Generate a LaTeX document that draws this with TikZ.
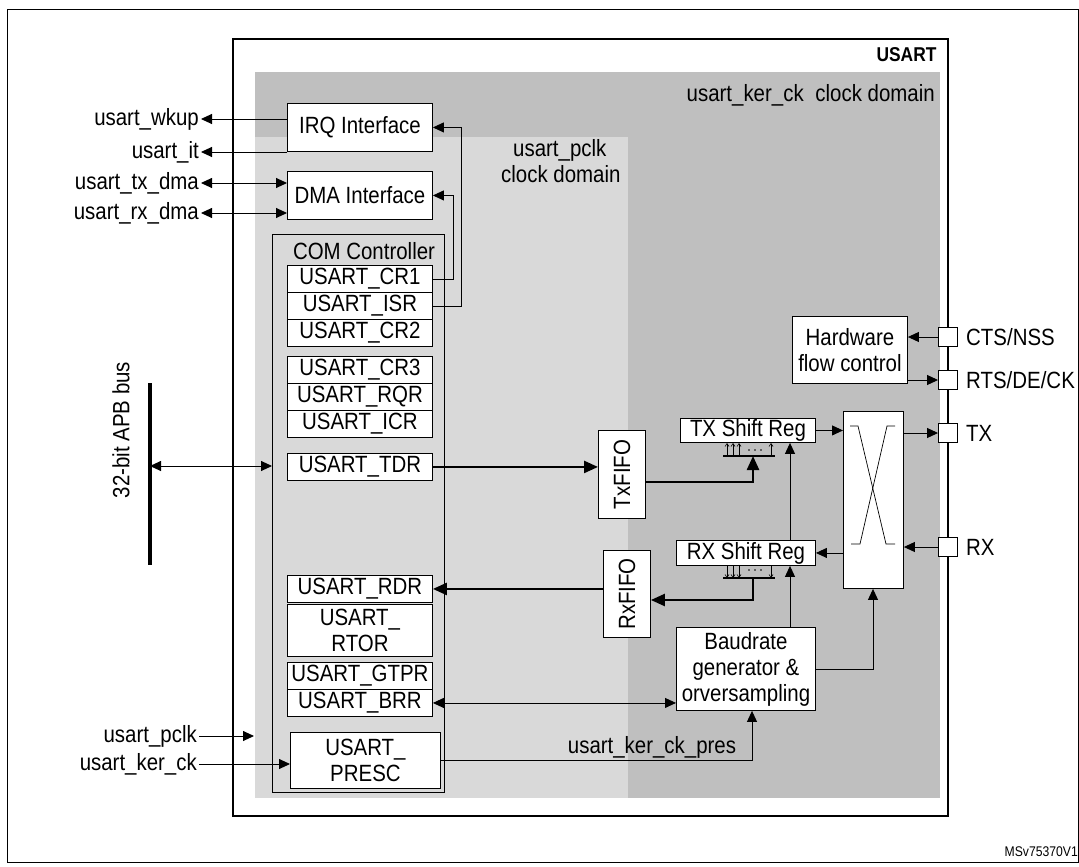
\documentclass[tikz,border=0pt]{standalone}
\usepackage{fontspec}
\setmainfont{Liberation Sans}[FakeStretch=0.87]
\usetikzlibrary{arrows.meta}
\definecolor{dk}{HTML}{BFBFBF}
\definecolor{lt}{HTML}{D9D9D9}
\begin{document}
\begin{tikzpicture}[x=1pt,y=-1pt,
  box/.style={draw,fill=white,line width=0.9pt,inner sep=0pt,font=\fontsize{23.5}{26}\selectfont},
  reg/.style={box,minimum width=145pt,anchor=north west},
  lbl/.style={font=\fontsize{23.5}{26}\selectfont,inner sep=2pt},
  a/.style={-{Triangle[length=11pt,width=10pt]},line width=0.9pt},
  aa/.style={{Triangle[length=11pt,width=10pt]}-{Triangle[length=11pt,width=10pt]},line width=0.9pt},
  ta/.style={-{Triangle[length=14pt,width=12pt]},line width=2.4pt},
  port/.style={draw,fill=white,line width=0.9pt,minimum size=19pt,inner sep=0pt}]
\useasboundingbox (0,0) rectangle (1079,867);
\draw[line width=1pt] (7,10) rectangle (1078,862);
\draw[line width=1.3pt] (233,39) rectangle (948,816);
\fill[dk] (255,72) rectangle (940,798);
\fill[lt] (255,137) rectangle (628,798);
\node[font=\bfseries\fontsize{20}{22}\selectfont,anchor=north east] (usart) at (940,44) {USART};
\node[lbl,anchor=north east] (kdom) at (937,82) {usart\_ker\_ck\enspace clock domain};
\node[lbl,align=left,anchor=north west] (pdom) at (499,137) {\hspace{12pt}usart\_pclk\\clock domain};
% interfaces
\node[box,minimum width=145pt,minimum height=48pt,anchor=north west] (irq) at (287,103) {IRQ Interface};
\node[box,minimum width=145pt,minimum height=48pt,anchor=north west] (dma) at (287,171) {DMA Interface};
\draw[line width=0.9pt] (272,234) rectangle (444,792);
\node[lbl] (com) at (364,251) {COM Controller};
\node[reg,minimum height=27pt] (cr1) at (287,265) {USART\_CR1};
\node[reg,minimum height=27pt] (isr) at (287,292) {USART\_ISR};
\node[reg,minimum height=27pt] (cr2) at (287,319) {USART\_CR2};
\node[reg,minimum height=27pt] (cr3) at (287,356) {USART\_CR3};
\node[reg,minimum height=27pt] (rqr) at (287,383) {USART\_RQR};
\node[reg,minimum height=27pt] (icr) at (287,410) {USART\_ICR};
\node[reg,minimum height=27pt] (tdr) at (287,453) {USART\_TDR};
\node[reg,minimum height=27pt] (rdr) at (287,575) {USART\_RDR};
\node[reg,minimum height=52pt,align=center] (rtor) at (287,604) {USART\_\\RTOR};
\node[reg,minimum height=27pt] (gtpr) at (287,662) {USART\_GTPR};
\node[reg,minimum height=27pt] (brr) at (287,689) {USART\_BRR};
\node[reg,minimum width=150pt,minimum height=56pt,align=center] (presc) at (290,732) {USART\_\\PRESC};
\draw[a] (cr1.east) -- ++(21,0) |- (dma.east);
\draw[a] (isr.east) -- ++(29,0) |- (irq.east);
% left signals
\node[lbl,anchor=east] (wk) at (201,119) {usart\_wkup};
\node[lbl,anchor=east] (it) at (201,152) {usart\_it};
\node[lbl,anchor=east] (tx) at (201,183) {usart\_tx\_dma};
\node[lbl,anchor=east] (rx) at (201,213) {usart\_rx\_dma};
\draw[a] (irq.west|-wk) -- (wk);
\draw[a] (irq.west|-it) -- (it);
\draw[aa] (tx) -- (dma.west|-tx);
\draw[aa] (rx) -- (dma.west|-rx);
\node[lbl,anchor=east] (pclk) at (199,736) {usart\_pclk};
\node[lbl,anchor=east] (kck) at (199,764) {usart\_ker\_ck};
\coordinate (pclke) at (254,736);
\draw[a] (pclk) -- (pclke);
\draw[a] (kck) -- (presc.west|-kck);
% APB bus
\coordinate (bt) at (150,383); \coordinate (bb) at (150,565);
\draw[line width=4.5pt] (bt) -- (bb);
\node[lbl,rotate=90] (apb) at (121,430) {32-bit APB bus};
\coordinate (bm) at (150,466);
\draw[aa] (bm) -- (272,466);
% FIFOs
\node[box,minimum width=47pt,minimum height=88pt,anchor=north west] (txf) at (598,430) {};
\node[lbl,rotate=90] at (txf.center) {TxFIFO};
\node[box,minimum width=47pt,minimum height=87pt,anchor=north west] (rxf) at (603,550) {};
\node[lbl,rotate=90] at (rxf.center) {RxFIFO};
\draw[ta] (tdr.east) -- (txf.west|-tdr.east);
\draw[ta] (rxf.west|-rdr.east) -- (rdr.east);
% shift regs
\node[box,minimum width=135pt,minimum height=24pt,anchor=north west] (txs) at (680,418) {TX Shift Reg};
\node[box,minimum width=139pt,minimum height=25pt,anchor=north west] (rxs) at (676,540) {RX Shift Reg};
\draw[line width=1.5pt] (723,456) -- (775,456);
\foreach \x in {727,733,739,771} \draw[-{Straight Barb[length=3pt,width=4pt]},line width=0.6pt] (\x,456) -- (\x,443);
\foreach \x in {749,755,761} \fill (\x,450) circle (0.8pt);
\coordinate (txbar) at (753,456);
\draw[ta] (txf.east|-0,482) -| (txbar);
\draw[line width=1.5pt] (723,578) -- (775,578);
\foreach \x in {727,733,739,771} \draw[-{Straight Barb[length=3pt,width=4pt]},line width=0.6pt] (\x,566) -- (\x,578);
\foreach \x in {749,755,761} \fill (\x,570) circle (0.8pt);
\draw[ta] (753,578) |- (rxf.east|-0,600);
% switch
\node[box,minimum width=60pt,minimum height=177pt,anchor=north west] (sw) at (843,411) {};
\draw[line width=0.7pt] (850,426) -- (858,426) -- (886,544) -- (895,544);
\draw[line width=0.7pt] (895,426) -- (887,426) -- (860,544) -- (851,544);
% baudrate
\node[box,minimum width=139pt,minimum height=83pt,anchor=north west,align=center] (baud) at (676,627) {Baudrate\\generator \&\\orversampling};
\draw[a] (baud.north-|790,0) -- (rxs.south-|790,0);
\draw[a] (rxs.north-|790,0) -- (txs.south-|790,0);
\draw[a] (baud.east) -| (sw.south-|873,0);
\draw[aa] (brr.east) -- (baud.west|-brr.east);
\draw[a] (presc.east) -| (baud.south-|752,0);
\node[lbl,anchor=south] (kpres) at (652,761) {usart\_ker\_ck\_pres};
% hw flow
\node[box,minimum width=115pt,minimum height=67pt,anchor=north west,align=center] (hfc) at (792,316) {Hardware\\flow control};
\node[port] (cts) at (948,337) {};
\node[port] (rts) at (948,380) {};
\node[port] (ptx) at (948,433) {};
\node[port] (prx) at (948,547) {};
\node[lbl,anchor=west] at (964,337) {CTS/NSS};
\node[lbl,anchor=west] at (964,380) {RTS/DE/CK};
\node[lbl,anchor=west] at (964,433) {TX};
\node[lbl,anchor=west] at (964,547) {RX};
\draw[a] (cts) -- (hfc.east|-cts);
\draw[a] (hfc.east|-rts) -- (rts);
\draw[a] (txs.east) -- (sw.west|-txs.east);
\draw[a] (sw.east|-ptx) -- (ptx);
\draw[a] (prx) -- (sw.east|-prx);
\draw[a] (sw.west|-rxs.east) -- (rxs.east);
\node[font=\fontsize{14}{15}\selectfont,anchor=south east,inner sep=0pt] at (1078,857) {MSv75370V1};
\end{tikzpicture}
\end{document}
